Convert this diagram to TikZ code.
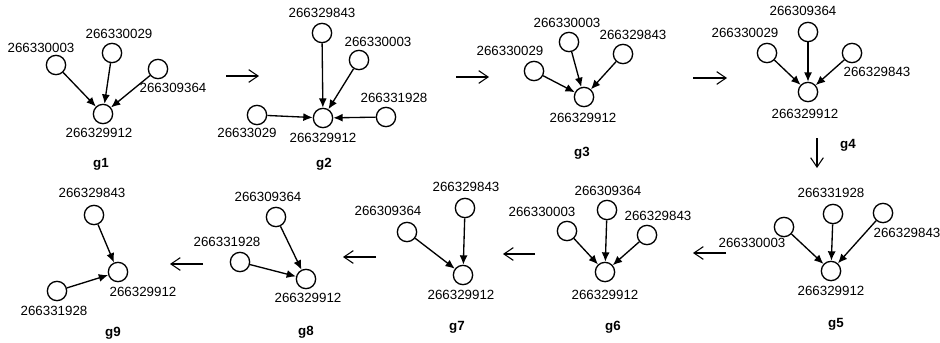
\documentclass[tikz,border=0pt]{standalone}
\usepackage{fontspec}
\setmainfont{Liberation Sans}
\usetikzlibrary{arrows.meta}
\tikzset{
  vertex/.style={circle, draw, line width=1pt, minimum size=14.5pt, inner sep=0pt},
  edge/.style={-{Latex[length=7pt,width=6pt]}, line width=1pt},
  nxt/.style={-{Straight Barb[length=7pt,width=9.5pt]}, line width=0.8pt},
  idlabel/.style={font=\fontsize{10}{12}\selectfont, inner sep=0pt},
  gname/.style={font=\bfseries\fontsize{10}{12}\selectfont, inner sep=0pt}
}
\begin{document}
\begin{tikzpicture}[x=0.75pt,y=-0.75pt]
\useasboundingbox (0,0) rectangle (940,343);
% g1
\node[vertex] (g1-912) at (103,114) {};
\node[vertex] (g1-003) at (56,65) {};
\node[vertex] (g1-029) at (112,53) {};
\node[vertex] (g1-364) at (158,69) {};
\node[idlabel] (g1-912l) at (99,133) {266329912};
\node[idlabel] (g1-003l) at (41,48) {266330003};
\node[idlabel] (g1-029l) at (119,34) {266330029};
\node[idlabel] (g1-364l) at (173,88) {266309364};
\draw[edge] (g1-003) -- (g1-912);
\draw[edge] (g1-029) -- (g1-912);
\draw[edge] (g1-364) -- (g1-912);
\node[gname] (g1) at (101,164) {g1};
% g2
\node[vertex] (g2-912) at (323,118) {};
\node[vertex] (g2-843) at (322,33) {};
\node[vertex] (g2-003) at (359,60) {};
\node[vertex] (g2-928) at (386,117) {};
\node[vertex] (g2-029) at (257,115) {};
\node[idlabel] (g2-912l) at (323,138) {266329912};
\node[idlabel] (g2-843l) at (322,13) {266329843};
\node[idlabel] (g2-003l) at (378,42) {266330003};
\node[idlabel] (g2-928l) at (394,98) {266331928};
\node[idlabel] (g2-029l) at (247,133) {26633029};
\draw[edge] (g2-843) -- (g2-912);
\draw[edge] (g2-003) -- (g2-912);
\draw[edge] (g2-928) -- (g2-912);
\draw[edge] (g2-029) -- (g2-912);
\node[gname] (g2) at (324,164) {g2};
% g3
\node[vertex] (g3-912) at (584,97) {};
\node[vertex] (g3-003) at (569,42) {};
\node[vertex] (g3-843) at (623,54) {};
\node[vertex] (g3-029) at (534,71) {};
\node[idlabel] (g3-912l) at (583,118) {266329912};
\node[idlabel] (g3-003l) at (567,23) {266330003};
\node[idlabel] (g3-843l) at (633,35) {266329843};
\node[idlabel] (g3-029l) at (510,51) {266330029};
\draw[edge] (g3-003) -- (g3-912);
\draw[edge] (g3-843) -- (g3-912);
\draw[edge] (g3-029) -- (g3-912);
\node[gname] (g3) at (582,153) {g3};
% g4
\node[vertex] (g4-912) at (808,92) {};
\node[vertex] (g4-364) at (808,32) {};
\node[vertex] (g4-029) at (767,53) {};
\node[vertex] (g4-843) at (852,53) {};
\node[idlabel] (g4-912l) at (805,114) {266329912};
\node[idlabel] (g4-364l) at (803,11) {266309364};
\node[idlabel] (g4-029l) at (745,33) {266330029};
\node[idlabel] (g4-843l) at (877,72) {266329843};
\draw[edge] (g4-364) -- (g4-912);
\draw[edge] (g4-029) -- (g4-912);
\draw[edge] (g4-843) -- (g4-912);
\node[gname] (g4) at (848,145) {g4};
% g5
\node[vertex] (g5-912) at (831,271) {};
\node[vertex] (g5-928) at (833,214) {};
\node[vertex] (g5-843) at (883,213) {};
\node[vertex] (g5-003) at (784,227) {};
\node[idlabel] (g5-912l) at (831,291) {266329912};
\node[idlabel] (g5-928l) at (831,193) {266331928};
\node[idlabel] (g5-843l) at (907,233) {266329843};
\node[idlabel] (g5-003l) at (752,243) {266330003};
\draw[edge] (g5-928) -- (g5-912);
\draw[edge] (g5-843) -- (g5-912);
\draw[edge] (g5-003) -- (g5-912);
\node[gname] (g5) at (836,324) {g5};
% g6
\node[vertex] (g6-912) at (605,272) {};
\node[vertex] (g6-364) at (607,210) {};
\node[vertex] (g6-003) at (567,231) {};
\node[vertex] (g6-843) at (647,235) {};
\node[idlabel] (g6-912l) at (605,295) {266329912};
\node[idlabel] (g6-364l) at (608,191) {266309364};
\node[idlabel] (g6-003l) at (542,212) {266330003};
\node[idlabel] (g6-843l) at (658,216) {266329843};
\draw[edge] (g6-364) -- (g6-912);
\draw[edge] (g6-003) -- (g6-912);
\draw[edge] (g6-843) -- (g6-912);
\node[gname] (g6) at (613,327) {g6};
% g7
\node[vertex] (g7-912) at (463,275) {};
\node[vertex] (g7-843) at (465,208) {};
\node[vertex] (g7-364) at (407,232) {};
\node[idlabel] (g7-912l) at (461,295) {266329912};
\node[idlabel] (g7-843l) at (466,187) {266329843};
\node[idlabel] (g7-364l) at (388,211) {266309364};
\draw[edge] (g7-843) -- (g7-912);
\draw[edge] (g7-364) -- (g7-912);
\node[gname] (g7) at (457,327) {g7};
% g8
\node[vertex] (g8-912) at (306,279) {};
\node[vertex] (g8-364) at (276,217) {};
\node[vertex] (g8-928) at (240,262) {};
\node[idlabel] (g8-912l) at (308,298) {266329912};
\node[idlabel] (g8-364l) at (268,197) {266309364};
\node[idlabel] (g8-928l) at (227,242) {266331928};
\draw[edge] (g8-364) -- (g8-912);
\draw[edge] (g8-928) -- (g8-912);
\node[gname] (g8) at (306,332) {g8};
% g9
\node[vertex] (g9-912) at (118,272) {};
\node[vertex] (g9-843) at (94,215) {};
\node[vertex] (g9-928) at (57,291) {};
\node[idlabel] (g9-912l) at (143,292) {266329912};
\node[idlabel] (g9-843l) at (92,193) {266329843};
\node[idlabel] (g9-928l) at (54,311) {266331928};
\draw[edge] (g9-843) -- (g9-912);
\draw[edge] (g9-928) -- (g9-912);
\node[gname] (g9) at (113,333) {g9};
% steps between graphs
\coordinate (s12a) at (226,76); \coordinate (s12b) at (259,76);
\coordinate (s23a) at (456,77); \coordinate (s23b) at (489,77);
\coordinate (s34a) at (693,78); \coordinate (s34b) at (727,78);
\coordinate (s45a) at (817,138); \coordinate (s45b) at (817,168);
\coordinate (s56a) at (726,253); \coordinate (s56b) at (693,253);
\coordinate (s67a) at (535,254); \coordinate (s67b) at (503,254);
\coordinate (s78a) at (376,257); \coordinate (s78b) at (343,257);
\coordinate (s89a) at (203,264); \coordinate (s89b) at (170,264);
\draw[nxt] (s12a) -- (s12b);
\draw[nxt] (s23a) -- (s23b);
\draw[nxt] (s34a) -- (s34b);
\draw[nxt] (s45a) -- (s45b);
\draw[nxt] (s56a) -- (s56b);
\draw[nxt] (s67a) -- (s67b);
\draw[nxt] (s78a) -- (s78b);
\draw[nxt] (s89a) -- (s89b);
\end{tikzpicture}
\end{document}
